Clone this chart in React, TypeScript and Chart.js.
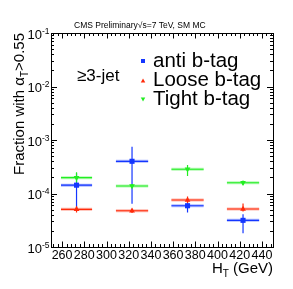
import React, { useEffect, useRef } from "react";
import { Chart, registerables } from "chart.js";

Chart.register(...registerables);

// ---- data ----
const htCentres = [273, 323, 373, 423];
const htHalfWidth = [14, 14.5, 14.5, 14.5];

const antiVals = [1.43e-4, 4.0e-4, 5.9e-5, 3.15e-5];
const antiLow = [5.3e-5, 6.4e-5, 4.4e-5, 1.8e-5];
const antiHigh = [2.4e-4, 7.5e-4, 6.8e-5, 4.1e-5];

const looseVals = [5.06e-5, 4.76e-5, 7.56e-5, 5.13e-5];
const looseLow = [4.4e-5, 4.3e-5, 6.6e-5, 4.6e-5];
const looseHigh = [5.8e-5, 5.2e-5, 8.8e-5, 6.5e-5];

const tightVals = [1.98e-4, 1.38e-4, 2.84e-4, 1.59e-4];
const tightLow = [1.6e-4, 1.25e-4, 2.13e-4, 1.45e-4];
const tightHigh = [2.5e-4, 1.5e-4, 3.42e-4, 1.75e-4];

const seriesNames = ["anti b-tag", "Loose b-tag", "Tight b-tag"];
const seriesColors = ["#1436ff", "#ff2a0a", "#22ee22"];
const seriesHalo = ["rgba(20,54,255,0.35)", "rgba(255,42,10,0.35)", "rgba(34,238,34,0.35)"];

const xTickLabels = ["260", "280", "300", "320", "340", "360", "380", "400", "420", "440"];
const xMajorValues = [260, 280, 300, 320, 340, 360, 380, 400, 420, 440];
const yTickExponents = [-5, -4, -3, -2, -1];

const FONT = "'Liberation Sans', Arial, Helvetica, sans-serif";

function pts(vals: number[], lo: number[], hi: number[]) {
  return vals.map((v, i) => ({ x: htCentres[i], y: v, xe: htHalfWidth[i], yl: lo[i], yh: hi[i] }));
}

const errorBarPlugin = {
  id: "errbars",
  beforeDatasetsDraw(chart: any) {
    const { ctx, scales } = chart;
    const x = scales.x, y = scales.y;
    chart.data.datasets.forEach((ds: any, di: number) => {
      ds.data.forEach((p: any) => {
        const px = x.getPixelForValue(p.x);
        const py = y.getPixelForValue(p.y);
        const x0 = x.getPixelForValue(p.x - p.xe);
        const x1 = x.getPixelForValue(p.x + p.xe);
        const ylo = y.getPixelForValue(p.yl);
        const yhi = y.getPixelForValue(p.yh);
        ctx.save();
        ctx.lineCap = "butt";
        ctx.strokeStyle = seriesHalo[di];
        ctx.lineWidth = 3;
        ctx.beginPath();
        ctx.moveTo(x0, py);
        ctx.lineTo(x1, py);
        ctx.stroke();
        ctx.strokeStyle = seriesColors[di];
        ctx.lineWidth = 1.2;
        ctx.beginPath();
        ctx.moveTo(x0, py);
        ctx.lineTo(x1, py);
        ctx.moveTo(px, ylo);
        ctx.lineTo(px, yhi);
        ctx.stroke();
        ctx.restore();
      });
    });
  },
};

function drawSquare(ctx: CanvasRenderingContext2D, cx: number, cy: number, s: number, c: string) {
  ctx.fillStyle = c;
  ctx.fillRect(cx - s / 2, cy - s / 2, s, s);
}
function drawTri(ctx: CanvasRenderingContext2D, cx: number, cy: number, s: number, c: string, down: boolean) {
  ctx.fillStyle = c;
  ctx.beginPath();
  const h = s * 0.87;
  if (!down) {
    ctx.moveTo(cx, cy - h / 2);
    ctx.lineTo(cx + s / 2, cy + h / 2);
    ctx.lineTo(cx - s / 2, cy + h / 2);
  } else {
    ctx.moveTo(cx, cy + h / 2);
    ctx.lineTo(cx + s / 2, cy - h / 2);
    ctx.lineTo(cx - s / 2, cy - h / 2);
  }
  ctx.closePath();
  ctx.fill();
}

const framePlugin = {
  id: "rootframe",
  afterDraw(chart: any) {
    const { ctx, chartArea, scales } = chart;
    const x = scales.x, y = scales.y;
    const L = chartArea.left, R = chartArea.right, T = chartArea.top, B = chartArea.bottom;
    ctx.save();
    // frame
    ctx.strokeStyle = "#000";
    ctx.lineWidth = 1;
    ctx.strokeRect(Math.round(L) + 0.5, Math.round(T) + 0.5, Math.round(R - L), Math.round(B - T));

    // x ticks
    ctx.beginPath();
    for (let v = 252; v <= 448; v += 4) {
      const px = Math.round(x.getPixelForValue(v)) + 0.5;
      const major = xMajorValues.indexOf(v) >= 0;
      const len = major ? 5.5 : 3;
      ctx.moveTo(px, B);
      ctx.lineTo(px, B - len);
      ctx.moveTo(px, T);
      ctx.lineTo(px, T + len);
    }
    // y ticks
    for (let e = -5; e <= -1; e++) {
      for (let m = 1; m <= 9; m++) {
        const v = m * Math.pow(10, e);
        if (v > 0.1 + 1e-12) continue;
        const py = Math.round(y.getPixelForValue(v)) + 0.5;
        const len = m === 1 ? 6 : 3;
        ctx.moveTo(L, py);
        ctx.lineTo(L + len, py);
        ctx.moveTo(R, py);
        ctx.lineTo(R - len, py);
      }
    }
    ctx.stroke();

    // x tick labels
    ctx.fillStyle = "#000";
    ctx.font = `12.5px ${FONT}`;
    ctx.textAlign = "center";
    ctx.textBaseline = "alphabetic";
    xTickLabels.forEach((lab, i) => {
      ctx.fillText(lab, x.getPixelForValue(xMajorValues[i]), B + 12);
    });

    // y tick labels
    yTickExponents.forEach((e) => {
      const py = y.getPixelForValue(Math.pow(10, e));
      ctx.font = `8.5px ${FONT}`;
      ctx.textAlign = "right";
      const sup = String(e);
      const supW = ctx.measureText(sup).width;
      ctx.fillText(sup, L - 1.5, py + 0.5);
      ctx.font = `13px ${FONT}`;
      ctx.fillText("10", L - 1.5 - supW, py + 5.5);
    });

    // x title: H_T (GeV)
    ctx.textAlign = "left";
    ctx.font = `15px ${FONT}`;
    const wH = ctx.measureText("H").width;
    const wRest = ctx.measureText(" (GeV)").width;
    ctx.font = `10px ${FONT}`;
    const wT = ctx.measureText("T").width;
    const totalX = wH + wT + wRest;
    const sx = R - totalX;
    const by = 273;
    ctx.font = `15px ${FONT}`;
    ctx.fillText("H", sx, by);
    ctx.font = `10px ${FONT}`;
    ctx.fillText("T", sx + wH, by + 3.5);
    ctx.font = `15px ${FONT}`;
    ctx.fillText(" (GeV)", sx + wH + wT, by);

    // y title: Fraction with alpha_T>0.55 (rotated)
    ctx.save();
    ctx.translate(24, T);
    ctx.rotate(-Math.PI / 2);
    ctx.font = `15px ${FONT}`;
    const p1 = "Fraction with \u03b1";
    const p3 = ">0.55";
    const w1 = ctx.measureText(p1).width;
    const w3 = ctx.measureText(p3).width;
    ctx.font = `10px ${FONT}`;
    const w2 = ctx.measureText("T").width;
    const tot = w1 + w2 + w3;
    const s0 = -tot;
    ctx.font = `15px ${FONT}`;
    ctx.fillText(p1, s0, 0);
    ctx.font = `10px ${FONT}`;
    ctx.fillText("T", s0 + w1, 3.5);
    ctx.font = `15px ${FONT}`;
    ctx.fillText(p3, s0 + w1 + w2, 0);
    ctx.restore();

    // header
    ctx.font = `8.5px ${FONT}`;
    ctx.textAlign = "left";
    ctx.fillText("CMS Preliminary\u221as=7 TeV, SM MC", 74, 27.5);

    // jet label
    ctx.font = `17px ${FONT}`;
    ctx.fillText("\u22653-jet", 77, 80.5);

    // legend
    const legY = [61, 80.5, 99.5];
    drawSquare(ctx, 143, legY[0], 4, seriesColors[0]);
    drawTri(ctx, 143, legY[1], 4.5, seriesColors[1], false);
    drawTri(ctx, 143, legY[2], 4.5, seriesColors[2], true);
    ctx.fillStyle = "#000";
    ctx.font = `20.5px ${FONT}`;
    seriesNames.forEach((n, i) => {
      ctx.fillText(n, 153, legY[i] + 5.5);
    });
    ctx.restore();
  },
};

export default function App() {
  const ref = useRef<HTMLCanvasElement | null>(null);
  useEffect(() => {
    document.body.style.margin = "0";
    const canvas = ref.current;
    if (!canvas) return;
    const chart = new Chart(canvas, {
      type: "scatter",
      data: {
        datasets: [
          {
            label: seriesNames[0],
            data: pts(antiVals, antiLow, antiHigh),
            pointStyle: "rect",
            pointRadius: 3.6,
            backgroundColor: seriesColors[0],
            borderColor: seriesColors[0],
            borderWidth: 0,
          },
          {
            label: seriesNames[1],
            data: pts(looseVals, looseLow, looseHigh),
            pointStyle: "triangle",
            pointRadius: 3.3,
            backgroundColor: seriesColors[1],
            borderColor: seriesColors[1],
            borderWidth: 0,
          },
          {
            label: seriesNames[2],
            data: pts(tightVals, tightLow, tightHigh),
            pointStyle: "triangle",
            rotation: 180,
            pointRadius: 3.3,
            backgroundColor: seriesColors[2],
            borderColor: seriesColors[2],
            borderWidth: 0,
          },
        ],
      },
      options: {
        animation: false,
        responsive: false,
        devicePixelRatio: 1,
        layout: { padding: { left: 51, right: 20, top: 33, bottom: 42 } },
        plugins: { legend: { display: false }, tooltip: { enabled: false }, title: { display: false } },
        scales: {
          x: { type: "linear", min: 250, max: 450, display: false },
          y: { type: "logarithmic", min: 1e-5, max: 1e-1, display: false },
        },
      } as any,
      plugins: [errorBarPlugin, framePlugin],
    });
    return () => chart.destroy();
  }, []);
  return (
    <div style={{ position: "absolute", left: 0, top: 0, width: 293, height: 289, background: "#fff" }}>
      <canvas ref={ref} width={293} height={289} style={{ width: 293, height: 289, display: "block" }} />
    </div>
  );
}
